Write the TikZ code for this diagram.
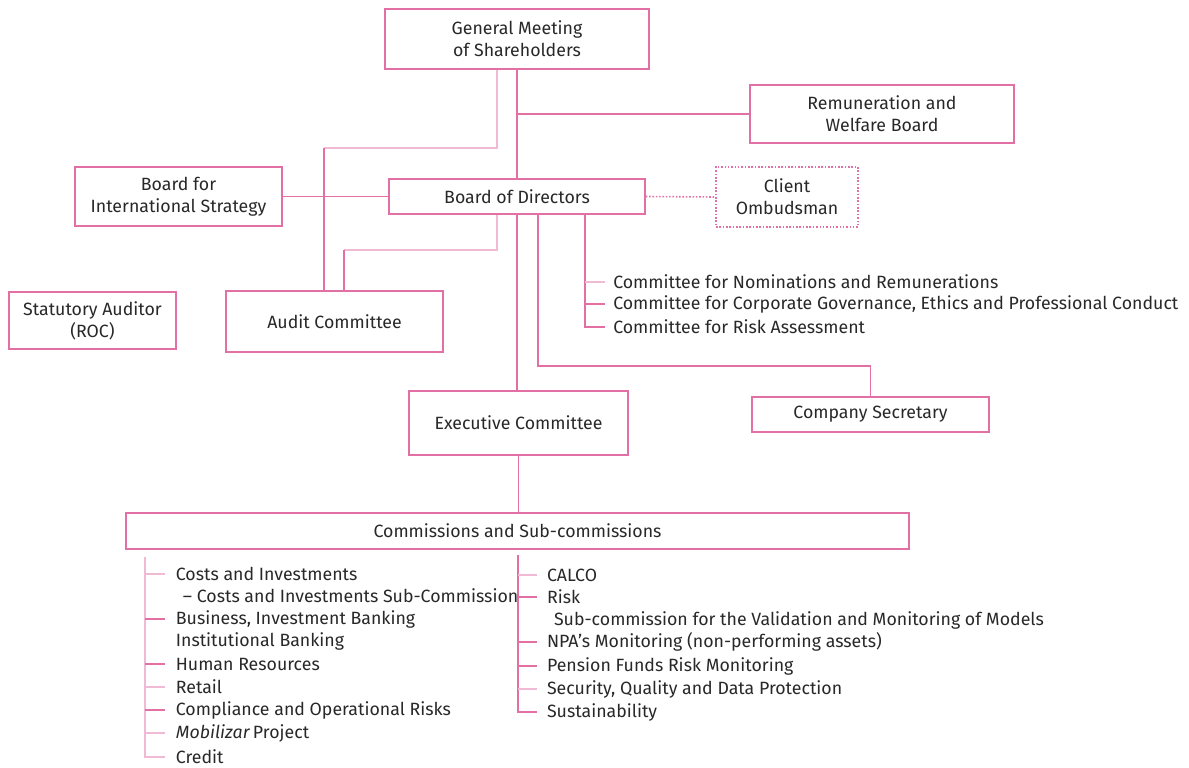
\documentclass[tikz,border=0pt]{standalone}
\usepackage{fontspec}
\setmainfont{Fira Sans}
\usetikzlibrary{positioning}
\definecolor{pinkline}{RGB}{226,112,165}
\definecolor{pinklight}{RGB}{240,185,212}
\definecolor{txtgrey}{RGB}{40,40,40}
\begin{document}
\begin{tikzpicture}%
[x=0.02cm, y=-0.02cm,%
font=\fontsize{10.1}{12.5}\selectfont, text=txtgrey,%
orgbox/.style={draw=pinkline, line width=0.9pt, align=center, inner sep=2pt},%
link/.style={draw=pinkline, line width=0.9pt},%
faint/.style={draw=pinklight, line width=0.9pt},%
item/.style={anchor=west, inner xsep=6pt, inner ysep=1pt},%
cmte/.style={anchor=west, inner xsep=4.5pt, inner ysep=1pt}]
\useasboundingbox (0,0) rectangle (1189,767);
% boxes
\node[orgbox, minimum width=5.28cm, minimum height=1.2cm] (gm) at (517,39) {General Meeting\\of Shareholders};
\node[orgbox, minimum width=5.28cm, minimum height=1.16cm] (rem) at (882,114) {Remuneration and\\Welfare Board};
\node[orgbox, minimum width=4.14cm, minimum height=1.18cm] (bis) at (178.5,196.5) {Board for\\International Strategy};
\node[orgbox, minimum width=5.12cm, minimum height=0.7cm] (bod) at (517,196.5) {Board of Directors};
\node[orgbox, densely dotted, minimum width=2.84cm, minimum height=1.2cm] (client) at (787,197) {Client\\Ombudsman};
\node[orgbox, minimum width=3.34cm, minimum height=1.14cm] (sa) at (92.5,320.5) {Statutory Auditor\\(ROC)};
\node[orgbox, minimum width=4.34cm, minimum height=1.22cm] (audit) at (334.5,321.5) {Audit Committee};
\node[orgbox, minimum width=4.38cm, minimum height=1.28cm] (exec) at (518.5,423) {Executive Committee};
\node[orgbox, minimum width=4.74cm, minimum height=0.7cm] (cs) at (870.5,414.5) {Company Secretary};
\node[orgbox, minimum width=15.66cm, minimum height=0.72cm] (comm) at (517.5,531) {Commissions and Sub-commissions};
% committees of the board
\node[cmte] (c1) at (605,282) {Committee for Nominations and Remunerations};
\node[cmte] (c2) at (605,304) {Committee for Corporate Governance, Ethics and Professional Conduct};
\node[cmte] (c3) at (605,327) {Committee for Risk Assessment};
% commissions
\foreach \n/\y/\t in {l1/574/Costs and Investments,%
  l2/596/{\hspace{4pt}– Costs and Investments Sub-Commission},%
  l3/619/{Business, Investment Banking},%
  l4/641/Institutional Banking,%
  l5/664/Human Resources,%
  l6/687/Retail,%
  l7/710/Compliance and Operational Risks,%
  l8/733/{\textit{Mobilizar}\,Project},%
  l9/757/Credit}
  \node[item] (\n) at (165,\y) {\t};
\foreach \n/\y/\t in {r1/575/CALCO,%
  r2/597/Risk,%
  r3/620/{\hspace{4pt}Sub-commission for the Validation and Monitoring of Models},%
  r4/642/{NPA's Monitoring (non-performing assets)},%
  r5/666/Pension Funds Risk Monitoring,%
  r6/689/{Security, Quality and Data Protection},%
  r7/712/Sustainability}
  \node[item, inner xsep=5.5pt] (\n) at (537,\y) {\t};
% connectors
\coordinate (k1) at (324,148);
\coordinate (k2) at (344,250);
\coordinate (cv) at ([xshift=1.36cm]bod.south);
\coordinate (lv) at (145,557);
\coordinate (rv) at (518,555);
\draw[link] (gm.south) -- (bod.north);
\draw[link] (gm.south |- rem.west) -- (rem.west);
\draw[faint] ([xshift=-0.4cm]gm.south) |- (k1);
\draw[link] (k1) -- (k1 |- audit.north);
\draw[link] (bis.east) -- (bod.west);
\draw[link, densely dotted] (bod.east) -- (client.west);
\draw[faint] ([xshift=-0.4cm]bod.south) |- (k2);
\draw[link] (k2) -- (k2 |- audit.north);
\draw[link] (bod.south) -- (bod.south |- exec.north);
\draw[link] ([xshift=0.42cm]bod.south) |- ([yshift=0.6cm]cs.north) -- (cs.north);
\draw[link] (cv) |- (c3.west);
\draw[faint] (cv |- c1.west) -- (c1.west);
\draw[link] (cv |- c2.west) -- (c2.west);
\draw[link] (exec.south) -- (exec.south |- comm.north);
\draw[faint] (lv) |- (l9.west);
\foreach \i in {1,6,8} \draw[faint] (lv |- l\i.west) -- (l\i.west);
\foreach \i in {3,5,7} \draw[link] (lv |- l\i.west) -- (l\i.west);
\draw[link] (rv) |- (r7.west);
\foreach \i in {1,6} \draw[faint] (rv |- r\i.west) -- (r\i.west);
\foreach \i in {2,4,5} \draw[link] (rv |- r\i.west) -- (r\i.west);
\end{tikzpicture}
\end{document}
